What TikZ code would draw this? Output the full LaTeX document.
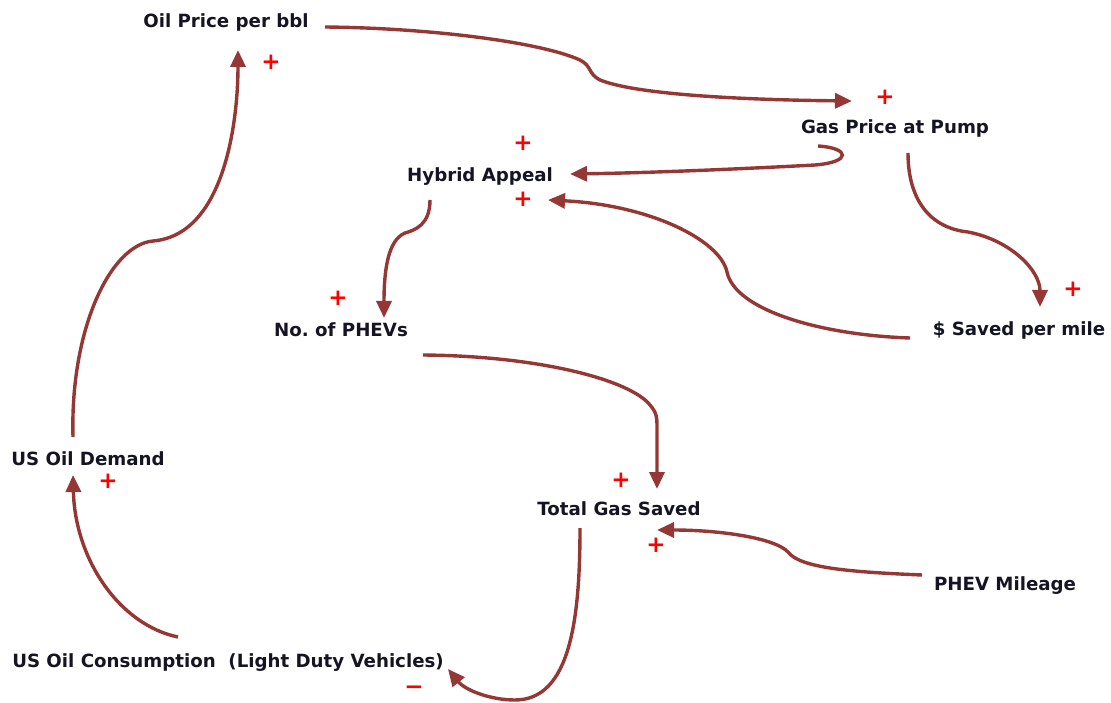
\documentclass[tikz,border=0pt]{standalone}
\usepackage{fontspec}
\setmainfont{DejaVu Sans}
\usetikzlibrary{arrows.meta,calc}
\definecolor{linkred}{RGB}{149,55,53}
\definecolor{signred}{RGB}{255,0,0}
\definecolor{vartext}{RGB}{20,20,35}
\frenchspacing
\begin{document}
\begin{tikzpicture}[x=1pt,y=-1pt,
  var/.style={font=\bfseries\fontsize{18.2}{21}\selectfont, text=vartext, inner sep=0pt},
  link/.style={draw=linkred, line width=3.4pt, -{Triangle[length=17pt,width=15pt]}},
  sign/.style={text=signred, font=\bfseries\fontsize{23}{23}\selectfont, inner sep=0pt}]
\useasboundingbox (0,0) rectangle (1111,703);
% variables
\node[var] (oil)   at (226,22)  {Oil Price per bbl};
\node[var] (gas)   at (895,128) {Gas Price at Pump};
\node[var] (hyb)   at (480,177) {Hybrid Appeal};
\node[var] (phev)  at (341,330) {No. of PHEVs};
\node[var] (saved) at (1019,330) {\$ Saved per mile};
\node[var] (dem)   at (88,459)  {US Oil Demand};
\node[var] (tot)   at (619,509) {Total Gas Saved};
\node[var] (mil)   at (1005,586) {PHEV Mileage};
\node[var] (cons)  at (228,663) {US Oil Consumption\ \ (Light Duty Vehicles)};
% polarity signs
\node[sign] (s1) at (271,62)  {+};
\node[sign] (s2) at (885,97)  {+};
\node[sign] (s3) at (523,143) {+};
\node[sign] (s4) at (523,199) {+};
\node[sign] (s5) at (338,298) {+};
\node[sign] (s6) at (1073,289) {+};
\node[sign] (s7) at (108,481) {+};
\node[sign] (s8) at (621,480) {+};
\node[sign] (s9) at (656,545) {+};
\node[sign] (s10) at (414,690) {−};
% links
\draw[link] ($(oil)+(99,5)$) .. controls (430,28) and (540,42) .. (580,60)
   .. controls (592,66) and (588,74) .. (600,80)
   .. controls (640,96) and (760,100) .. ($(gas)+(-43,-27)$);
\draw[link] ($(gas)+(-77,18)$) .. controls (850,148) and (852,162) .. (815,165)
   .. controls (720,170) and (640,173) .. ($(hyb)+(90,-3)$);
\draw[link] ($(gas)+(13,25)$) .. controls (908,200) and (930,228) .. (968,232)
   .. controls (1010,240) and (1040,270) .. ($(saved)+(21,-23)$);
\draw[link] ($(saved)+(-109,8)$) .. controls (820,335) and (735,310) .. (727,272)
   .. controls (720,240) and (650,205) .. ($(hyb)+(68,23)$);
\draw[link] ($(hyb)+(-50,23)$) .. controls (430,225) and (415,230) .. (405,233)
   .. controls (388,240) and (384,270) .. ($(phev)+(43,-12)$);
\draw[link] ($(phev)+(82,25)$) .. controls (540,356) and (630,380) .. (650,405)
   .. controls (657,413) and (657,418) .. (657,428) -- ($(tot)+(38,-20)$);
\draw[link] ($(mil)+(-83,-11)$) .. controls (850,572) and (800,568) .. (788,552)
   .. controls (775,538) and (720,530) .. ($(tot)+(38,21)$);
\draw[link] ($(tot)+(-39,19)$) .. controls (580,620) and (570,700) .. (515,700)
   .. controls (490,700) and (465,690) .. ($(cons)+(220,6)$);
\draw[link] ($(cons)+(-50,-26)$) .. controls (120,625) and (75,560) .. ($(dem)+(-15,16)$);
\draw[link] ($(dem)+(-15,-22)$) .. controls (70,330) and (110,245) .. (153,241)
   .. controls (225,235) and (238,120) .. ($(oil)+(12,28)$);
\end{tikzpicture}
\end{document}
